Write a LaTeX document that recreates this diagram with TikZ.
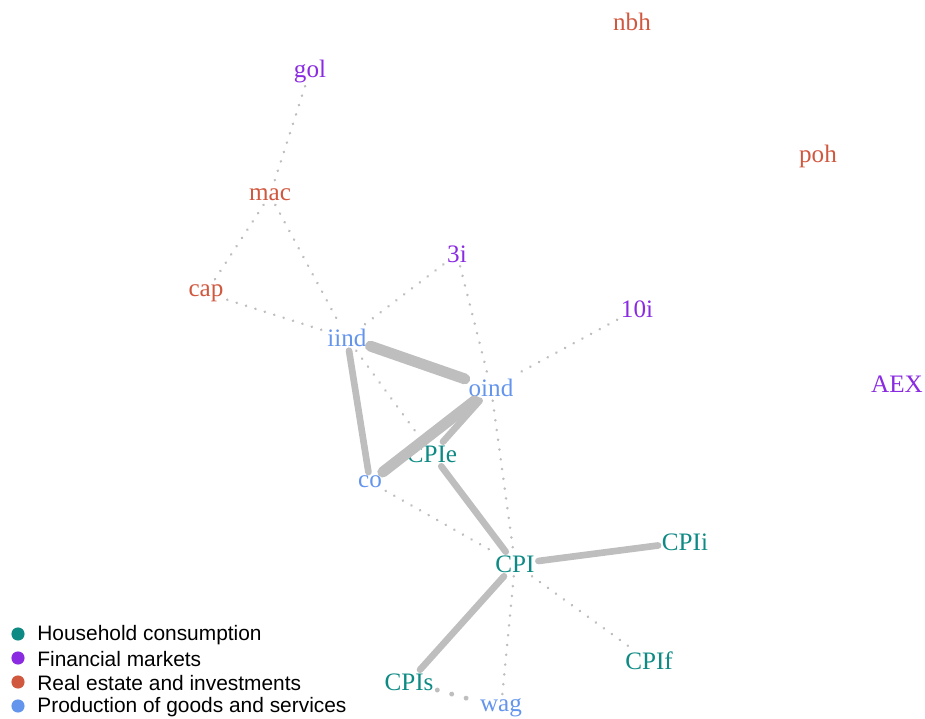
\documentclass[tikz,border=0pt]{standalone}
\usepackage{fontspec}
\setmainfont{Liberation Serif}
\setsansfont{Liberation Sans}

\definecolor{hhc}{HTML}{0E8A84}
\definecolor{fin}{HTML}{8A2BE2}
\definecolor{rei}{HTML}{D0583F}
\definecolor{pgs}{HTML}{6495ED}
\definecolor{edgegray}{HTML}{BEBEBE}

\tikzset{
  lbl/.style={font=\fontsize{14.3}{16}\selectfont, inner sep=2pt},
  strong/.style={draw=edgegray, line width=3.8pt, line cap=round},
  heavy/.style={draw=edgegray, line width=6.2pt, line cap=round},
  weak/.style={draw=edgegray, line width=1.6pt, line cap=round,
    dash pattern=on 0.01pt off 5.6pt},
  weakbig/.style={draw=edgegray, line width=2.8pt, line cap=round,
    dash pattern=on 0.01pt off 8.5pt},
  legdot/.style={circle, inner sep=0pt, minimum size=7.5pt},
  legtext/.style={font=\sffamily\fontsize{11.9}{13}\selectfont, anchor=west, inner sep=0pt}
}

\begin{document}
\begin{tikzpicture}[x=0.02cm, y=-0.02cm]

	\useasboundingbox (0,0) rectangle (925,719);

	% variables
	\node[lbl, text=rei] (nbh) at (632,22) {nbh};
	\node[lbl, text=fin] (gol) at (310,71) {gol};
	\node[lbl, text=rei] (poh) at (818,156) {poh};
	\node[lbl, text=rei] (mac) at (270,195) {mac};
	\node[lbl, text=fin] (3i) at (457,254) {3i};
	\node[lbl, text=rei] (cap) at (206,293) {cap};
	\node[lbl, text=fin] (10i) at (637,309) {10i};
	\node[lbl, text=pgs] (iind) at (347,338) {iind};
	\node[lbl, text=fin] (AEX) at (897,384) {AEX};
	\node[lbl, text=pgs] (oind) at (491,388) {oind};
	\node[lbl, text=hhc] (CPIe) at (432,454) {CPIe};
	\node[lbl, text=pgs] (co) at (370,482) {co};
	\node[lbl, text=hhc] (CPIi) at (685,542) {CPIi};
	\node[lbl, text=hhc] (CPI) at (515,564) {CPI};
	\node[lbl, text=hhc] (CPIf) at (649,661) {CPIf};
	\node[lbl, text=hhc] (CPIs) at (409,682) {CPIs};
	\node[lbl, text=pgs] (wag) at (501,708) {wag};

	% weak links
	\draw[weak] (gol) -- (mac);
	\draw[weak] (mac) -- (cap);
	\draw[weak] (mac) -- (iind);
	\draw[weak] (cap) -- (iind);
	\draw[weak] (3i) -- (iind);
	\draw[weak] (3i) -- (oind);
	\draw[weak] (10i) -- (oind);
	\draw[weak] (iind) -- (CPIe);
	\draw[weak] (co) -- (CPI);
	\draw[weak] (oind) -- (CPI);
	\draw[weak] (CPI) -- (CPIf);
	\draw[weak] (CPI) -- (wag);
	\draw[weakbig] (CPIs) -- (wag);

	% strong links
	\draw[heavy] (iind) -- (oind);
	\draw[heavy] (oind) -- (co);
	\draw[strong] (iind) -- (co);
	\draw[strong] (oind) -- (CPIe);
	\draw[strong] (CPIe) -- (CPI);
	\draw[strong] (CPI) -- (CPIi);
	\draw[strong] (CPI) -- (CPIs);

	% legend
	\foreach \col/\txt [count=\i] in {hhc/Household consumption,
	    fin/Financial markets,
	    rei/Real estate and investments,
	    pgs/Production of goods and services}{
	  \node[legdot, fill=\col] (dot\i) at (18,610+24*\i) {};
	  \node[legtext] (leg\i) at (37,611+24*\i) {\txt};
	}

\end{tikzpicture}
\end{document}
